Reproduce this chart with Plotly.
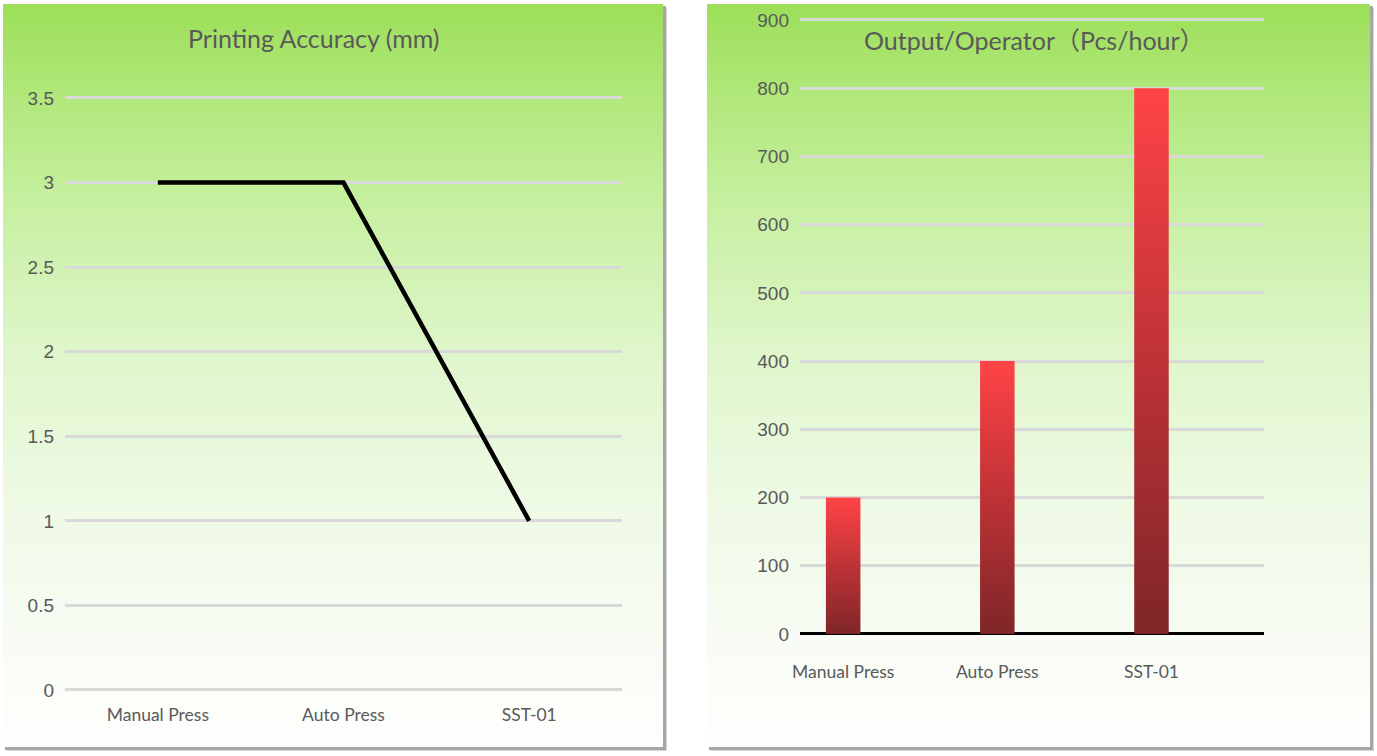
import plotly.graph_objects as go

W, H = 1377, 756

categories = ["Manual Press", "Auto Press", "SST-01"]
accuracy_mm = [3, 3, 1]
output_pcs_hour = [200, 400, 800]
acc_ticks = [0, 0.5, 1, 1.5, 2, 2.5, 3, 3.5]
acc_ticktext = ["0", "0.5", "1", "1.5", "2", "2.5", "3", "3.5"]
out_ticks = [0, 100, 200, 300, 400, 500, 600, 700, 800, 900]

TXT = "#595959"
GRID = "#D9D9D9"

def px_x(p):
    return p / W

def px_y(p):
    return 1 - p / H

fig = go.Figure()

# ---- panel backgrounds (gradient + shadow) ----
stops = [
    (0.00, (156, 223, 88)),
    (0.12, (176, 231, 122)),
    (0.28, (200, 240, 163)),
    (0.48, (224, 246, 204)),
    (0.68, (239, 250, 230)),
    (0.85, (248, 252, 244)),
    (1.00, (254, 255, 253)),
]

def col_at(t):
    for (t0, c0), (t1, c1) in zip(stops[:-1], stops[1:]):
        if t <= t1:
            f = (t - t0) / (t1 - t0)
            return "rgb(%d,%d,%d)" % tuple(round(a + (b - a) * f) for a, b in zip(c0, c1))
    return "rgb(%d,%d,%d)" % stops[-1][1]

shapes = []

def panel(x0, y0, x1, y1):
    shapes.append(dict(type="rect", xref="paper", yref="paper", layer="below",
                       x0=px_x(x0 + 4), x1=px_x(x1 + 4), y0=px_y(y1 + 4), y1=px_y(y0 + 4),
                       fillcolor="#D6D6D6", line=dict(width=0)))
    shapes.append(dict(type="rect", xref="paper", yref="paper", layer="below",
                       x0=px_x(x0 + 2), x1=px_x(x1 + 3), y0=px_y(y1 + 3), y1=px_y(y0 + 2),
                       fillcolor="#A6A6A6", line=dict(width=0)))
    n = 124
    h = (y1 - y0) / n
    for i in range(n):
        t = (i + 0.5) / n
        yb = min(y0 + (i + 1) * h + 2.0, y1)
        shapes.append(dict(type="rect", xref="paper", yref="paper", layer="below",
                           x0=px_x(x0), x1=px_x(x1),
                           y0=px_y(yb), y1=px_y(y0 + i * h),
                           fillcolor=col_at(t), line=dict(width=0)))

panel(3, 4, 663, 747)
panel(707, 4, 1370, 747)

# ---- left: line chart ----
fig.add_trace(go.Scatter(
    x=list(range(len(categories))), y=accuracy_mm, mode="lines",
    line=dict(color="black", width=4.5), xaxis="x", yaxis="y",
    showlegend=False, hoverinfo="skip"))

# ---- right: gradient bars ----
half = 0.112
for i, v in enumerate(output_pcs_hour):
    fig.add_trace(go.Scatter(
        x=[i - half, i + half, i + half, i - half, i - half],
        y=[0, 0, v, v, 0],
        mode="lines", line=dict(width=0), fill="toself",
        fillgradient=dict(type="vertical",
                          colorscale=[[0, "#7E2628"], [0.5, "#BE3236"], [1, "#FF4447"]],
                          start=0, stop=v),
        xaxis="x2", yaxis="y2", showlegend=False, hoverinfo="skip"))

num_font = dict(family="Liberation Sans, Arial, sans-serif", size=19, color=TXT)
cat_font = dict(family="Lato, 'Noto Sans CJK SC', sans-serif", size=17.5, color=TXT)
title_font = dict(family="Lato, 'Noto Sans CJK SC', sans-serif", size=25, color=TXT)

# left y: 0 -> 690px, 3.5 -> 98px ; right y: 0 -> 634px, 900 -> 20px
l_pp = (690 - 98) / 3.5
r_pp = (634 - 20) / 900
l_lo, l_hi = -0.03, 3.53
r_lo, r_hi = -10, 910

fig.update_layout(
    width=W, height=H, template="none",
    margin=dict(l=0, r=0, t=0, b=0, pad=0),
    paper_bgcolor="white", plot_bgcolor="rgba(0,0,0,0)",
    shapes=shapes,
    xaxis=dict(domain=[px_x(65), px_x(622)], range=[-0.5, 2.5], anchor="y",
               tickvals=list(range(len(categories))), ticktext=categories,
               tickfont=cat_font, showgrid=False, zeroline=False, showline=False,
               ticks="", ticklabelstandoff=7, automargin=False, fixedrange=True),
    yaxis=dict(domain=[px_y(690 - l_lo * l_pp), px_y(690 - l_hi * l_pp)],
               range=[l_lo, l_hi], anchor="x",
               tickvals=acc_ticks, ticktext=acc_ticktext, tickfont=num_font,
               showgrid=True, gridcolor=GRID, gridwidth=2.5, zeroline=False,
               showline=False, ticks="", ticklabelstandoff=10, automargin=False,
               fixedrange=True),
    xaxis2=dict(domain=[px_x(800), px_x(1264)], range=[-0.28, 2.73], anchor="y2",
                tickvals=list(range(len(categories))), ticktext=categories,
                tickfont=cat_font, showgrid=False, zeroline=False, showline=False,
                ticks="", ticklabelstandoff=19, automargin=False, fixedrange=True),
    yaxis2=dict(anchor="x2", domain=[px_y(634 - r_lo * r_pp), px_y(634 - r_hi * r_pp)],
                range=[r_lo, r_hi],
                tickvals=out_ticks, tickfont=num_font,
                showgrid=True, gridcolor=GRID, gridwidth=3,
                zeroline=True, zerolinecolor="black", zerolinewidth=3,
                showline=False, ticks="", ticklabelstandoff=10, automargin=False,
                fixedrange=True),
    annotations=[
        dict(text="Printing Accuracy (mm)", xref="paper", yref="paper",
             x=px_x(314), y=px_y(38), showarrow=False, xanchor="center", yanchor="middle",
             font=title_font),
        dict(text="Output/Operator（Pcs/hour）", xref="paper", yref="paper",
             x=px_x(1034), y=px_y(40), showarrow=False, xanchor="center", yanchor="middle",
             font=title_font),
    ],
)

fig.write_html("out.html", config={"displayModeBar": False},
               post_script="document.body.style.margin='0px';document.body.style.overflow='hidden';")
